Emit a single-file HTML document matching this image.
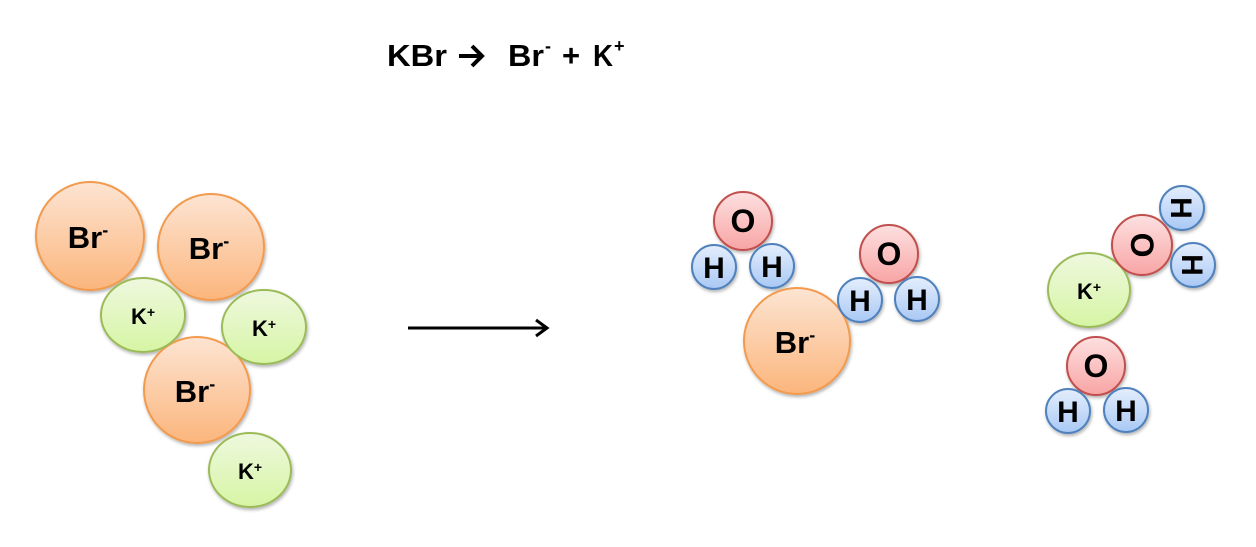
<!DOCTYPE html>
<html><head><style>
body{margin:0;width:1256px;height:547px;background:#fff;overflow:hidden;font-family:"Liberation Sans",sans-serif}
</style></head><body>
<svg width="1256" height="547" style="position:absolute;left:0;top:0" font-family="Liberation Sans, sans-serif" font-weight="bold">
<defs>
<linearGradient id="br" x1="0" y1="0" x2="0" y2="1"><stop offset="0" stop-color="#fde4d2"/><stop offset="1" stop-color="#fbb57c"/></linearGradient>
<linearGradient id="k" x1="0" y1="0" x2="0" y2="1"><stop offset="0" stop-color="#eef8de"/><stop offset="1" stop-color="#d6f5a4"/></linearGradient>
<linearGradient id="o" x1="0" y1="0" x2="0" y2="1"><stop offset="0" stop-color="#fde0e0"/><stop offset="1" stop-color="#f8a4a4"/></linearGradient>
<linearGradient id="h" x1="0" y1="0" x2="0" y2="1"><stop offset="0" stop-color="#e4eefc"/><stop offset="1" stop-color="#a9c8f5"/></linearGradient>
<filter id="s"><feDropShadow dx="1" dy="2" stdDeviation="1.5" flood-opacity="0.3"/></filter>
</defs>
<g font-size="31" fill="#000">
<text x="387" y="66" textLength="60" lengthAdjust="spacingAndGlyphs">KBr</text>
<text x="508" y="66" textLength="36" lengthAdjust="spacingAndGlyphs">Br</text>
<text x="545" y="52" font-size="18">-</text>
<text x="562" y="66">+</text>
<text x="593" y="66" textLength="20" lengthAdjust="spacingAndGlyphs">K</text>
<text x="614" y="52" font-size="18">+</text>
</g>
<line x1="459" y1="56" x2="480" y2="56" stroke="#000" stroke-width="4"/>
<polyline points="472,46 482,56 472,66" fill="none" stroke="#000" stroke-width="4"/>
<g filter="url(#s)" stroke-width="2">
<g stroke="#f29a4e" fill="url(#br)">
<circle cx="90" cy="236" r="54"/><circle cx="211" cy="247" r="53"/><circle cx="197" cy="390" r="53"/><circle cx="797" cy="341" r="53"/>
</g>
<g stroke="#9bbb59" fill="url(#k)">
<ellipse cx="143" cy="315" rx="42" ry="37"/><ellipse cx="264" cy="327" rx="42" ry="37"/><ellipse cx="250" cy="470" rx="41" ry="37"/><ellipse cx="1089" cy="290" rx="41" ry="37"/>
</g>
<g stroke="#c0504d" fill="url(#o)">
<circle cx="743" cy="221" r="29"/><circle cx="889" cy="254" r="29"/><circle cx="1142" cy="245" r="30"/><circle cx="1096" cy="366" r="29"/>
</g>
<g stroke="#4f81bd" fill="url(#h)">
<circle cx="714" cy="267" r="22"/><circle cx="772" cy="266" r="22"/><circle cx="860" cy="300" r="22"/><circle cx="917" cy="299" r="22"/>
<circle cx="1182" cy="208" r="22"/><circle cx="1193" cy="265" r="22"/><circle cx="1068" cy="411" r="22"/><circle cx="1126" cy="410" r="22"/>
</g>
</g>
<g fill="#000" text-anchor="middle">
<text x="88" y="248" font-size="31">Br<tspan dy="-12" font-size="18">-</tspan></text>
<text x="209" y="259" font-size="31">Br<tspan dy="-12" font-size="18">-</tspan></text>
<text x="195" y="402" font-size="31">Br<tspan dy="-12" font-size="18">-</tspan></text>
<text x="795" y="353" font-size="31">Br<tspan dy="-12" font-size="18">-</tspan></text>
<g font-size="22"><text x="143" y="324">K<tspan dy="-7" font-size="14">+</tspan></text>
<text x="264" y="336">K<tspan dy="-7" font-size="14">+</tspan></text>
<text x="250" y="479">K<tspan dy="-7" font-size="14">+</tspan></text>
<text x="1089" y="299">K<tspan dy="-7" font-size="14">+</tspan></text></g>
<g font-size="32"><text x="743" y="232">O</text><text x="889" y="265">O</text><text x="1096" y="377">O</text>
<text transform="translate(1142,245) rotate(90)" y="11">O</text></g>
<g font-size="30"><text x="714" y="278">H</text><text x="772" y="277">H</text><text x="860" y="311">H</text><text x="917" y="310">H</text>
<text x="1068" y="422">H</text><text x="1126" y="421">H</text>
<text transform="translate(1182,208) rotate(90)" y="11">H</text><text transform="translate(1193,265) rotate(90)" y="11">H</text></g>
</g>
<line x1="408" y1="328" x2="546" y2="328" stroke="#000" stroke-width="3"/>
<polyline points="536,320 547,328 536,336" fill="none" stroke="#000" stroke-width="3"/>
</svg>
</body></html>
